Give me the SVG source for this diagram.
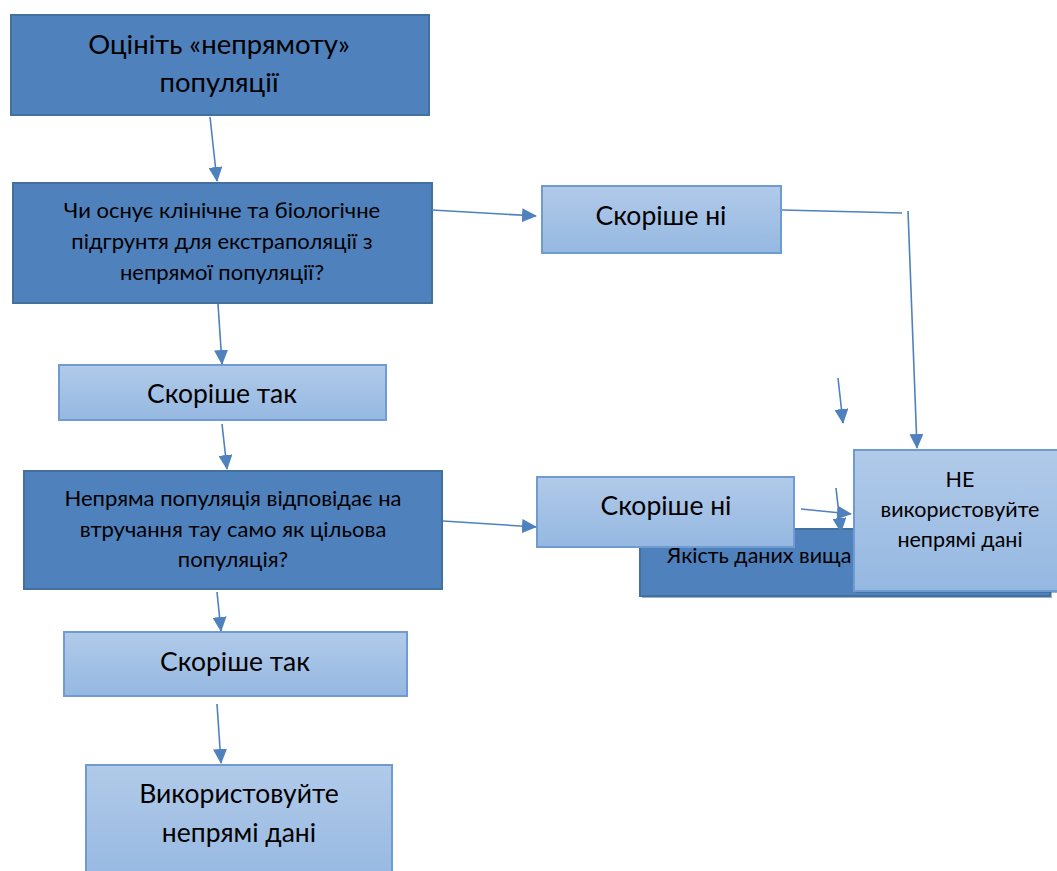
<svg xmlns="http://www.w3.org/2000/svg" width="1057" height="871" viewBox="0 0 1057 871">
<defs>
<linearGradient id="lg" x1="0" y1="0" x2="0" y2="1">
<stop offset="0" stop-color="#B1CAE9"/>
<stop offset="1" stop-color="#95B8E1"/>
</linearGradient>
<marker id="ah" viewBox="0 0 15 14" refX="14" refY="7" markerWidth="15" markerHeight="14" markerUnits="userSpaceOnUse" orient="auto">
<path d="M0,0 L15,7 L0,14 z" fill="#4F81BD"/>
</marker>
<style>
.dark{fill:#4F81BD;stroke:#41719C;stroke-width:2}
.light{fill:url(#lg);stroke:#6F9AD2;stroke-width:2}
text{font-family:Lato,"Noto Sans","Liberation Sans",sans-serif;fill:#000;text-anchor:middle}
.c{fill:none;stroke:#4F81BD;stroke-width:1.6}
.a{marker-end:url(#ah)}
</style>
</defs>
<rect width="1057" height="871" fill="#fff"/>
<g id="n1">
<rect class="dark" x="11" y="15" width="418" height="100"/>
<text x="219" y="54" font-size="27.5">Оцініть «непрямоту»</text>
<text x="219" y="92" font-size="27.5">популяції</text>
</g>
<g id="n2">
<rect class="dark" x="13" y="183" width="419" height="120"/>
<text x="222" y="218" font-size="22">Чи оснує клінічне та біологічне</text>
<text x="222" y="249" font-size="22">підгрунтя для екстраполяції з</text>
<text x="222" y="280" font-size="22">непрямої популяції?</text>
</g>
<g id="n3">
<rect class="light" x="542" y="186" width="239" height="67"/>
<text x="661" y="225" font-size="26.5">Скоріше ні</text>
</g>
<g id="n4">
<rect class="light" x="59" y="365" width="327" height="55"/>
<text x="222" y="403" font-size="26.5">Скоріше так</text>
</g>
<g id="n5">
<rect class="dark" x="24" y="471" width="418" height="118"/>
<text x="233" y="506" font-size="22">Непряма популяція відповідає на</text>
<text x="233" y="537" font-size="22">втручання тау само як цільова</text>
<text x="233" y="567" font-size="22">популяція?</text>
</g>
<g id="n6">
<rect class="light" x="64" y="632" width="343" height="64"/>
<text x="235" y="671" font-size="26.5">Скоріше так</text>
</g>
<g id="n7">
<rect class="light" x="86" y="765" width="306" height="120"/>
<text x="239" y="803" font-size="26.5">Використовуйте</text>
<text x="239" y="842" font-size="26.5">непрямі дані</text>
</g>
<g id="n8">
<rect x="642" y="531" width="410" height="67" fill="#3C6496" opacity="0.5"/>
<rect class="dark" x="640" y="529" width="410" height="67"/>
<text x="667" y="563" font-size="21.5" style="text-anchor:start">Якість даних вища</text>
</g>
<g id="n9">
<rect class="light" x="537" y="477" width="257" height="70"/>
<text x="666" y="515" font-size="26.5">Скоріше ні</text>
</g>
<g id="connectors">
<path class="c a" d="M210,117 L217,181"/>
<path class="c a" d="M218,304 L222,364"/>
<path class="c a" d="M222,424 L227,469"/>
<path class="c a" d="M217,592 L221,631"/>
<path class="c a" d="M217,704 L221,763"/>
<path class="c a" d="M432,210 L536,216"/>
<path class="c a" d="M443,521 L536,527"/>
<path class="c" d="M782,210 L902,213"/>
<path class="c a" d="M908,211 L917,448"/>
<path class="c a" d="M838,378 L843,423"/>
<path class="c a" d="M801,509 L851,514"/>
<path class="c a" d="M836,488 L841,532"/>
</g>
<g id="n10">
<rect x="856" y="452" width="212" height="141" fill="#3C6496" opacity="0.5"/>
<rect class="light" x="854" y="450" width="212" height="141"/>
<text x="960" y="487" font-size="21.5">НЕ</text>
<text x="960" y="517" font-size="21.5">використовуйте</text>
<text x="960" y="547" font-size="21.5">непрямі дані</text>
</g>
</svg>
